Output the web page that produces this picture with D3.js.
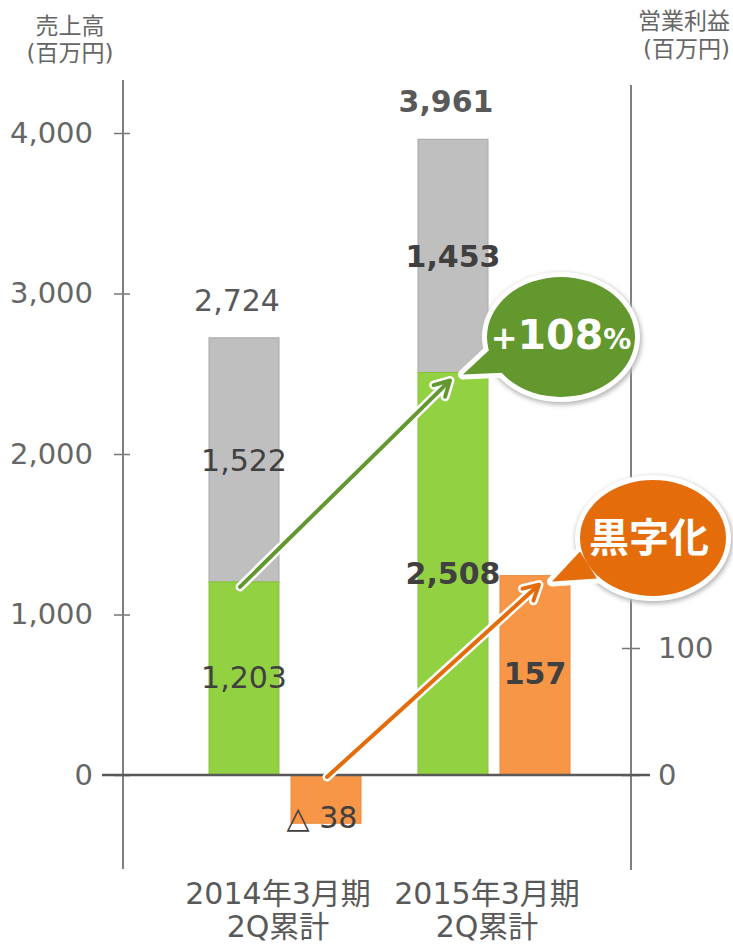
<!DOCTYPE html>
<html>
<head>
<meta charset="utf-8">
<script src="https://cdn.jsdelivr.net/npm/d3@7"></script>
<style>
  body { margin: 0; background: #fff; }
  text { font-family: 'DejaVu Sans', 'Noto Sans CJK JP', sans-serif; }
</style>
</head>
<body>
<script>
var W = 733, H = 947;

// data
var categories = ['2014年3月期', '2015年3月期'];
var subLabel = ['2Q累計', '2Q累計'];
var salesLower = [1203, 2508];   // green part
var salesUpper = [1522, 1453];   // gray part
var salesTotal = [2724, 3961];
var profit = [-38, 157];
var leftTicks = [0, 1000, 2000, 3000, 4000];
var rightTicks = [0, 100];

var svg = d3.select('body').append('svg')
  .attr('width', W)
  .attr('height', H);

var defs = svg.append('defs');
var glow = defs.append('filter').attr('id', 'shadow')
  .attr('x', '-20%').attr('y', '-20%').attr('width', '140%').attr('height', '140%');
glow.append('feGaussianBlur').attr('stdDeviation', 2);

var yL = d3.scaleLinear().domain([0, 4000]).range([775, 133]);
var yR = d3.scaleLinear().domain([0, 100]).range([775, 648]);

var x = d3.scaleBand().domain(categories)
  .range([209, 570]).paddingInner(57 / 209).paddingOuter(0);
var xs = d3.scaleBand().domain(['sales', 'profit'])
  .range([0, x.bandwidth()]).paddingInner(12 / 82);

var axisLeftX = 123, axisRightX = 631;

// axis titles
var titleStyle = function(t) {
  t.attr('fill', '#666').attr('font-size', 23);
};
svg.append('text').attr('x', 70).attr('y', 34).attr('text-anchor', 'middle').call(titleStyle).text('売上高');
svg.append('text').attr('x', 70).attr('y', 61).attr('text-anchor', 'middle').call(titleStyle).text('(百万円)');
svg.append('text').attr('x', 730).attr('y', 29).attr('text-anchor', 'end').call(titleStyle).text('営業利益');
svg.append('text').attr('x', 730).attr('y', 57).attr('text-anchor', 'end').call(titleStyle).text('(百万円)');

// axes
var gL = svg.append('g').attr('transform', 'translate(' + axisLeftX + ',0)')
  .call(d3.axisLeft(yL).tickValues(leftTicks).tickSize(9).tickPadding(21)
    .tickFormat(d3.format(',')));
var gR = svg.append('g').attr('transform', 'translate(' + axisRightX + ',0)')
  .call(d3.axisRight(yR).tickValues(rightTicks).tickSize(9).tickPadding(18));

[gL, gR].forEach(function(g) {
  g.select('.domain').remove();
  g.selectAll('.tick line').attr('stroke', '#777').attr('stroke-width', 1.5);
  g.selectAll('.tick text').attr('fill', '#666').attr('font-size', 29)
    .attr('font-family', "'DejaVu Sans', sans-serif");
});
gL.selectAll('.tick line').attr('x1', 7);
gR.selectAll('.tick line').attr('x1', -9);

svg.append('line')
  .attr('x1', axisLeftX).attr('x2', axisLeftX).attr('y1', 80).attr('y2', 869)
  .attr('stroke', '#7f7f7f').attr('stroke-width', 2);
svg.append('line')
  .attr('x1', axisRightX).attr('x2', axisRightX).attr('y1', 85).attr('y2', 870)
  .attr('stroke', '#7f7f7f').attr('stroke-width', 2);

// bars
var bw = xs.bandwidth();
svg.selectAll('.upper').data(categories).enter().append('rect')
  .attr('x', function(d) { return x(d) + xs('sales'); })
  .attr('y', function(d, i) { return yL(salesTotal[i]); })
  .attr('width', bw)
  .attr('height', function(d, i) { return yL(salesLower[i]) - yL(salesTotal[i]); })
  .attr('fill', '#bfbfbf').attr('stroke', '#a8a8a8').attr('stroke-width', 1);

svg.selectAll('.lower').data(categories).enter().append('rect')
  .attr('x', function(d) { return x(d) + xs('sales'); })
  .attr('y', function(d, i) { return yL(salesLower[i]); })
  .attr('width', bw)
  .attr('height', function(d, i) { return yL(0) - yL(salesLower[i]); })
  .attr('fill', '#92d142').attr('stroke', '#86c23a').attr('stroke-width', 1);

svg.selectAll('.profit').data(categories).enter().append('rect')
  .attr('x', function(d) { return x(d) + xs('profit'); })
  .attr('y', function(d, i) { return Math.min(yR(profit[i]), yR(0)); })
  .attr('width', bw)
  .attr('height', function(d, i) { return Math.abs(yR(profit[i]) - yR(0)); })
  .attr('fill', '#f79646').attr('stroke', '#eb8a3c').attr('stroke-width', 1);

// zero line
svg.append('line')
  .attr('x1', 102).attr('x2', 650).attr('y1', yL(0)).attr('y2', yL(0))
  .attr('stroke', '#595959').attr('stroke-width', 2.5);

// value labels
var fmt = d3.format(',');
var cx = function(d, key) { return x(d) + xs(key) + bw / 2; };

svg.selectAll('.lt').data(categories).enter().append('text')
  .attr('x', function(d) { return cx(d, 'sales') - 7; })
  .attr('y', function(d, i) { return yL(salesTotal[i]) - 27; })
  .attr('text-anchor', 'middle').attr('font-size', 30)
  .attr('font-weight', function(d, i) { return i ? 'bold' : 'normal'; })
  .attr('fill', '#595959')
  .text(function(d, i) { return fmt(salesTotal[i]); });

svg.selectAll('.lu').data(categories).enter().append('text')
  .attr('x', function(d) { return cx(d, 'sales'); })
  .attr('y', function(d, i) { return (yL(salesTotal[i]) + yL(salesLower[i])) / 2 + 11; })
  .attr('text-anchor', 'middle').attr('font-size', 30)
  .attr('font-weight', function(d, i) { return i ? 'bold' : 'normal'; })
  .attr('fill', '#404040')
  .text(function(d, i) { return fmt(salesUpper[i]); });

svg.selectAll('.ll').data(categories).enter().append('text')
  .attr('x', function(d) { return cx(d, 'sales'); })
  .attr('y', function(d, i) { return (yL(0) + yL(salesLower[i])) / 2 + 10; })
  .attr('text-anchor', 'middle').attr('font-size', 30)
  .attr('font-weight', function(d, i) { return i ? 'bold' : 'normal'; })
  .attr('fill', '#404040')
  .text(function(d, i) { return fmt(salesLower[i]); });

svg.selectAll('.lp').data(categories).enter().append('text')
  .attr('x', function(d, i) { return cx(d, 'profit') - (profit[i] < 0 ? 4 : 0); })
  .attr('y', function(d, i) {
    return profit[i] < 0 ? yR(profit[i]) + 5 : (yR(0) + yR(profit[i])) / 2 + 9;
  })
  .attr('text-anchor', 'middle').attr('font-size', 30)
  .attr('font-weight', function(d, i) { return profit[i] < 0 ? 'normal' : 'bold'; })
  .attr('fill', '#404040')
  .text(function(d, i) { return profit[i] < 0 ? '△ ' + Math.abs(profit[i]) : fmt(profit[i]); });

// category labels
svg.selectAll('.cat').data(categories).enter().append('text')
  .attr('x', function(d) { return x(d) + x.bandwidth() / 2 - 7; })
  .attr('y', 904)
  .attr('text-anchor', 'middle').attr('font-size', 30).attr('fill', '#595959')
  .text(function(d) { return d; });
svg.selectAll('.cat2').data(categories).enter().append('text')
  .attr('x', function(d) { return x(d) + x.bandwidth() / 2 - 7; })
  .attr('y', 937)
  .attr('text-anchor', 'middle').attr('font-size', 30).attr('fill', '#595959')
  .text(function(d, i) { return subLabel[i]; });

// arrows
var arrow = function(x1, y1, x2, y2, color) {
  var a = Math.atan2(y2 - y1, x2 - x1), h = 17, s = 0.5;
  var head = [
    [x2 - h * Math.cos(a - s), y2 - h * Math.sin(a - s)],
    [x2, y2],
    [x2 - h * Math.cos(a + s), y2 - h * Math.sin(a + s)]
  ];
  var g = svg.append('g');
  [['#fff', 9], [color, 4]].forEach(function(st) {
    g.append('line').attr('x1', x1).attr('y1', y1).attr('x2', x2 - 2 * Math.cos(a)).attr('y2', y2 - 2 * Math.sin(a))
      .attr('stroke', st[0]).attr('stroke-width', st[1]).attr('stroke-linecap', 'round');
    g.append('path').attr('d', d3.line()(head)).attr('fill', 'none')
      .attr('stroke', st[0]).attr('stroke-width', st[1])
      .attr('stroke-linecap', 'round').attr('stroke-linejoin', 'round');
  });
};

var g1x = x(categories[0]) + xs('sales') + bw / 2 - 4;
var g2x = x(categories[1]) + xs('sales') + bw / 2 - 3;
arrow(g1x, yL(salesLower[0]) + 5, g2x, yL(salesLower[1]) + 8, '#62982f');

var o1x = x(categories[0]) + xs('profit') + bw / 2 + 1;
var o2x = x(categories[1]) + xs('profit') + bw / 2 + 4;
arrow(o1x, yR(0) + 2, o2x, yR(profit[1]) + 9, '#e46c0a');

// bubbles
var bubble = function(cxp, cyp, rx, ry, tail, color, build) {
  var g = svg.append('g');
  var tailPath = d3.line()(tail) + 'Z';
  g.append('ellipse').attr('cx', cxp + 1).attr('cy', cyp + 2).attr('rx', rx + 6).attr('ry', ry + 6)
    .attr('fill', '#bbb').attr('filter', 'url(#shadow)');
  g.append('ellipse').attr('cx', cxp).attr('cy', cyp).attr('rx', rx).attr('ry', ry)
    .attr('fill', '#fff').attr('stroke', '#fff').attr('stroke-width', 10);
  g.append('path').attr('d', tailPath)
    .attr('fill', '#fff').attr('stroke', '#fff').attr('stroke-width', 10).attr('stroke-linejoin', 'round');
  g.append('ellipse').attr('cx', cxp).attr('cy', cyp).attr('rx', rx).attr('ry', ry).attr('fill', color);
  g.append('path').attr('d', tailPath).attr('fill', color);
  build(g);
};

var tipG = [g2x + 13, yL(salesLower[1]) + 2];
bubble(561, 337, 74, 60,
  [tipG, [tipG[0] + 30, tipG[1] - 28], [tipG[0] + 45, tipG[1] - 2]], '#63982f',
  function(g) {
    var t = g.append('text').attr('x', 561).attr('y', 349).attr('text-anchor', 'middle')
      .attr('fill', '#fff').attr('font-weight', 'bold');
    t.append('tspan').attr('font-size', 32).text('+');
    t.append('tspan').attr('font-size', 41).text('108');
    t.append('tspan').attr('font-size', 28).text('%');
  });

var tipO = [o2x + 13, yR(profit[1]) + 6];
bubble(653, 538, 73, 58,
  [tipO, [tipO[0] + 28, tipO[1] - 30], [tipO[0] + 45, tipO[1] - 3]], '#e46c0a',
  function(g) {
    g.append('text').attr('x', 649).attr('y', 552).attr('text-anchor', 'middle')
      .attr('fill', '#fff').attr('font-weight', 'bold').attr('font-size', 40)
      .attr('font-family', "'Noto Sans CJK JP', sans-serif")
      .text('黒字化');
  });
</script>
</body>
</html>
